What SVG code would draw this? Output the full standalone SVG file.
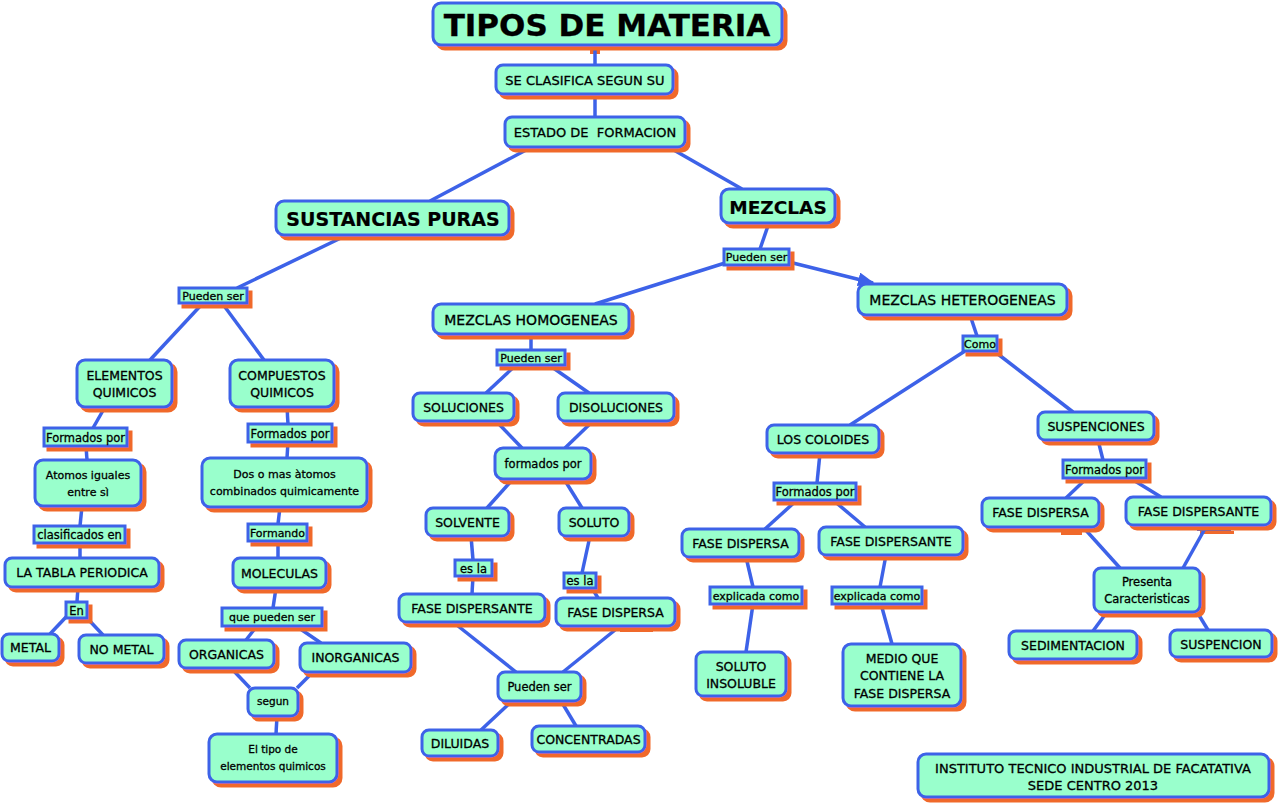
<svg xmlns="http://www.w3.org/2000/svg" width="1279" height="805" viewBox="0 0 1279 805">
<defs>
<filter id="sh" x="-20%" y="-30%" width="160%" height="190%">
<feFlood flood-color="#f0692c"/>
<feComposite operator="in" in2="SourceAlpha"/>
<feOffset dx="4" dy="4"/>
<feMerge><feMergeNode/><feMergeNode in="SourceGraphic"/></feMerge>
</filter>
<marker id="arr" markerUnits="userSpaceOnUse" markerWidth="18" markerHeight="14" refX="15" refY="7" orient="auto">
<path d="M0,0 L17,7 L0,14 z" fill="#3d62e8"/>
</marker>
</defs>
<style>
.n{fill:#99ffcc;stroke:#3d62e8;stroke-width:3;filter:url(#sh)}
.lb{fill:#99ffcc;stroke:#3d62e8;stroke-width:3;filter:url(#sh)}
text{font-family:"DejaVu Sans",sans-serif;font-size:12.5px;fill:#000;text-anchor:middle;dominant-baseline:central;stroke:#000;stroke-width:0.3px}
.s11{font-size:11px}.s115{font-size:11.5px}.s105{font-size:10.5px}.s13{font-size:13px}.s14{font-size:14px}
.big{font-size:19px;font-weight:bold;stroke-width:0.2px}
.ttl{font-size:31px;font-weight:bold;stroke-width:0.3px}
#connectors line{stroke:#3d62e8;stroke-width:3.5}
.or{fill:#f0692c}.bl{fill:#3d62e8}
</style>
<rect width="1279" height="805" fill="#fff"/>
<g id="artifacts">
<rect class="or" x="590" y="50" width="10" height="4"/>
<rect class="or" x="620" y="628" width="33" height="4"/>
<rect class="bl" x="1059" y="529" width="21" height="2"/>
<rect class="or" x="1061" y="531" width="21" height="4"/>
<rect class="bl" x="1197" y="527" width="34" height="4"/>
<rect class="or" x="1200" y="531" width="34" height="3"/>
</g>
<g id="connectors">
<line x1="595" y1="45" x2="595" y2="65"/>
<line x1="595" y1="94" x2="595" y2="117"/>
<line x1="528" y1="149" x2="430" y2="201"/>
<line x1="672" y1="149" x2="742" y2="189"/>
<line x1="345" y1="236" x2="237" y2="288"/>
<line x1="203" y1="303" x2="150" y2="360"/>
<line x1="222" y1="303" x2="264" y2="360"/>
<line x1="105" y1="407" x2="93" y2="428"/>
<line x1="86" y1="446" x2="87" y2="460"/>
<line x1="82" y1="506" x2="80" y2="526"/>
<line x1="80" y1="543" x2="80" y2="558"/>
<line x1="78" y1="587" x2="77" y2="602"/>
<line x1="66" y1="617" x2="50" y2="634"/>
<line x1="86" y1="617" x2="103" y2="635"/>
<line x1="287" y1="407" x2="288" y2="424"/>
<line x1="288" y1="442" x2="287" y2="458"/>
<line x1="280" y1="507" x2="278" y2="524"/>
<line x1="278" y1="541" x2="278" y2="558"/>
<line x1="276" y1="588" x2="273" y2="608"/>
<line x1="257" y1="626" x2="246" y2="640"/>
<line x1="296" y1="626" x2="321" y2="643"/>
<line x1="231" y1="668" x2="250" y2="688"/>
<line x1="313" y1="672" x2="297" y2="688"/>
<line x1="277" y1="716" x2="276" y2="734"/>
<line x1="769" y1="223" x2="760" y2="249"/>
<line x1="725" y1="263" x2="595" y2="304"/>
<line x1="789" y1="262" x2="873" y2="283" marker-end="url(#arr)"/>
<line x1="970" y1="315" x2="977" y2="336"/>
<line x1="965" y1="351" x2="850" y2="425"/>
<line x1="994" y1="351" x2="1073" y2="412"/>
<line x1="820" y1="453" x2="817" y2="483"/>
<line x1="797" y1="500" x2="765" y2="529"/>
<line x1="833" y1="500" x2="865" y2="527"/>
<line x1="746" y1="557" x2="753" y2="587"/>
<line x1="753" y1="604" x2="746" y2="652"/>
<line x1="886" y1="555" x2="880" y2="587"/>
<line x1="881" y1="604" x2="892" y2="644"/>
<line x1="1098" y1="440" x2="1103" y2="460"/>
<line x1="1087" y1="478" x2="1066" y2="498"/>
<line x1="1130" y1="478" x2="1161" y2="497"/>
<line x1="1083" y1="527" x2="1120" y2="568"/>
<line x1="1207" y1="525" x2="1183" y2="568"/>
<line x1="1107" y1="612" x2="1093" y2="631"/>
<line x1="1197" y1="612" x2="1208" y2="630"/>
<line x1="531" y1="334" x2="531" y2="350"/>
<line x1="516" y1="365" x2="486" y2="393"/>
<line x1="549" y1="365" x2="589" y2="393"/>
<line x1="496" y1="421" x2="522" y2="448"/>
<line x1="593" y1="421" x2="565" y2="448"/>
<line x1="513" y1="479" x2="487" y2="508"/>
<line x1="564" y1="479" x2="582" y2="508"/>
<line x1="471" y1="536" x2="473" y2="560"/>
<line x1="473" y1="576" x2="472" y2="594"/>
<line x1="590" y1="536" x2="582" y2="573"/>
<line x1="592" y1="588" x2="598" y2="598"/>
<line x1="453" y1="622" x2="516" y2="672"/>
<line x1="620" y1="626" x2="563" y2="672"/>
<line x1="512" y1="701" x2="481" y2="730"/>
<line x1="561" y1="701" x2="576" y2="726"/>
</g>
<g id="tipos"><rect class="n" x="433" y="3" width="349" height="42" rx="8"/><text class="ttl" x="607" y="25">TIPOS DE MATERIA</text></g>
<g id="clasifica"><rect class="n" x="496" y="65" width="177" height="29" rx="7"/><text class="s13" x="585" y="80">SE CLASIFICA SEGUN SU</text></g>
<g id="estado"><rect class="n" x="505" y="117" width="180" height="30" rx="7"/><text class="s13" x="595" y="132" xml:space="preserve">ESTADO DE  FORMACION</text></g>
<g id="sustancias"><rect class="n" x="276" y="201" width="233" height="34" rx="8"/><text class="big" x="393" y="219">SUSTANCIAS PURAS</text></g>
<g id="mezclas"><rect class="n" x="721" y="189" width="114" height="34" rx="8"/><text class="big" x="778" y="207" style="font-size:18.5px">MEZCLAS</text></g>
<g id="pueden-mezclas"><rect class="lb" x="724" y="249" width="65" height="16"/><text class="s11" x="756.5" y="257.5">Pueden ser</text></g>
<g id="heterogeneas"><rect class="n" x="858" y="284" width="209" height="31" rx="8"/><text class="s14" x="962.5" y="300">MEZCLAS HETEROGENEAS</text></g>
<g id="como"><rect class="lb" x="963" y="336" width="34" height="15"/><text class="s11" x="980" y="344">Como</text></g>
<g id="coloides"><rect class="n" x="767" y="425" width="112" height="28" rx="7"/><text x="823" y="439.5">LOS COLOIDES</text></g>
<g id="suspenciones"><rect class="n" x="1038" y="412" width="116" height="28" rx="7"/><text x="1096" y="426.5">SUSPENCIONES</text></g>
<g id="formados-coloides"><rect class="lb" x="774" y="483" width="82" height="17"/><text class="s115" x="815" y="492">Formados por</text></g>
<g id="fase-dispersa-col"><rect class="n" x="682" y="529" width="117" height="28" rx="7"/><text x="740.5" y="543.5">FASE DISPERSA</text></g>
<g id="fase-dispersante-col"><rect class="n" x="819" y="527" width="144" height="28" rx="7"/><text x="891" y="541.5">FASE DISPERSANTE</text></g>
<g id="explicada-1"><rect class="lb" x="710" y="587" width="92" height="17"/><text class="s11" x="756" y="596">explicada como</text></g>
<g id="explicada-2"><rect class="lb" x="832" y="587" width="90" height="17"/><text class="s11" x="877" y="596">explicada como</text></g>
<g id="soluto-insoluble"><rect class="n" x="696" y="652" width="90" height="44" rx="7"/><text x="741" y="666">SOLUTO</text><text x="741" y="683">INSOLUBLE</text></g>
<g id="medio"><rect class="n" x="843" y="644" width="118" height="62" rx="8"/><text x="902" y="658">MEDIO QUE</text><text x="902" y="675">CONTIENE LA</text><text x="902" y="693">FASE DISPERSA</text></g>
<g id="formados-susp"><rect class="lb" x="1063" y="460" width="83" height="18"/><text class="s115" x="1104.5" y="469.5">Formados por</text></g>
<g id="fase-dispersa-susp"><rect class="n" x="982" y="498" width="117" height="29" rx="7"/><text x="1040.5" y="512.5">FASE DISPERSA</text></g>
<g id="fase-dispersante-susp"><rect class="n" x="1126" y="497" width="145" height="28" rx="7"/><text x="1198.5" y="511">FASE DISPERSANTE</text></g>
<g id="presenta"><rect class="n" x="1094" y="568" width="106" height="44" rx="7"/><text class="s115" x="1147" y="582">Presenta</text><text class="s115" x="1147" y="599">Caracteristicas</text></g>
<g id="sedimentacion"><rect class="n" x="1009" y="631" width="128" height="28" rx="7"/><text x="1073" y="645.5">SEDIMENTACION</text></g>
<g id="suspencion"><rect class="n" x="1170" y="630" width="102" height="27" rx="7"/><text x="1221" y="644">SUSPENCION</text></g>
<g id="instituto"><rect class="n" x="918" y="754" width="351" height="43" rx="8"/><text class="s13" x="1093" y="768">INSTITUTO TECNICO INDUSTRIAL DE FACATATIVA</text><text class="s13" x="1093" y="785">SEDE CENTRO 2013</text></g>
<g id="homogeneas"><rect class="n" x="433" y="304" width="196" height="30" rx="8"/><text class="s14" x="531" y="319.5">MEZCLAS HOMOGENEAS</text></g>
<g id="pueden-homog"><rect class="lb" x="497" y="350" width="68" height="15"/><text class="s11" x="531" y="358">Pueden ser</text></g>
<g id="soluciones"><rect class="n" x="413" y="393" width="101" height="28" rx="7"/><text x="463.5" y="407.5">SOLUCIONES</text></g>
<g id="disoluciones"><rect class="n" x="558" y="393" width="116" height="28" rx="7"/><text x="616" y="407.5">DISOLUCIONES</text></g>
<g id="formados-homog"><rect class="n" x="495" y="448" width="96" height="31" rx="8"/><text class="s115" x="543" y="463.5">formados por</text></g>
<g id="solvente"><rect class="n" x="426" y="508" width="83" height="28" rx="7"/><text x="467.5" y="522.5">SOLVENTE</text></g>
<g id="soluto"><rect class="n" x="559" y="508" width="70" height="28" rx="7"/><text x="594" y="522.5">SOLUTO</text></g>
<g id="es-la-1"><rect class="lb" x="455" y="560" width="37" height="16"/><text class="s115" x="473.5" y="568.5">es la</text></g>
<g id="es-la-2"><rect class="lb" x="564" y="573" width="32" height="15"/><text class="s115" x="580" y="581">es la</text></g>
<g id="fase-dispersante-mid"><rect class="n" x="399" y="594" width="146" height="28" rx="7"/><text x="472" y="608.5">FASE DISPERSANTE</text></g>
<g id="fase-dispersa-mid"><rect class="n" x="556" y="598" width="119" height="28" rx="7"/><text x="615.5" y="612.5">FASE DISPERSA</text></g>
<g id="pueden-ser-sol"><rect class="n" x="498" y="672" width="83" height="29" rx="7"/><text class="s115" x="539.5" y="687">Pueden ser</text></g>
<g id="diluidas"><rect class="n" x="422" y="730" width="76" height="26" rx="7"/><text x="460" y="743.5">DILUIDAS</text></g>
<g id="concentradas"><rect class="n" x="532" y="726" width="113" height="26" rx="7"/><text x="588.5" y="739.5">CONCENTRADAS</text></g>
<g id="pueden-sustancias"><rect class="lb" x="179" y="288" width="68" height="15"/><text class="s11" x="213" y="296">Pueden ser</text></g>
<g id="elementos"><rect class="n" x="77" y="360" width="95" height="47" rx="8"/><text x="124.5" y="375">ELEMENTOS</text><text x="124.5" y="392">QUIMICOS</text></g>
<g id="compuestos"><rect class="n" x="230" y="360" width="104" height="47" rx="8"/><text x="282" y="375">COMPUESTOS</text><text x="282" y="392">QUIMICOS</text></g>
<g id="formados-elem"><rect class="lb" x="44" y="428" width="83" height="18"/><text class="s115" x="85.5" y="437.5">Formados por</text></g>
<g id="formados-comp"><rect class="lb" x="248" y="424" width="84" height="18"/><text class="s115" x="290" y="433.5">Formados por</text></g>
<g id="atomos"><rect class="n" x="35" y="460" width="106" height="46" rx="8"/><text class="s11" x="88" y="475">Atomos iguales</text><text class="s11" x="88" y="492">entre sì</text></g>
<g id="dos-o-mas"><rect class="n" x="202" y="458" width="165" height="49" rx="8"/><text class="s11" x="284.5" y="474">Dos o mas àtomos</text><text class="s11" x="284.5" y="491">combinados quimicamente</text></g>
<g id="clasificados"><rect class="lb" x="34" y="526" width="91" height="17"/><text class="s115" x="79.5" y="535">clasificados en</text></g>
<g id="formando"><rect class="lb" x="248" y="524" width="59" height="17"/><text class="s11" x="277.5" y="533">Formando</text></g>
<g id="tabla"><rect class="n" x="5" y="558" width="154" height="29" rx="7"/><text x="82" y="572.5">LA TABLA PERIODICA</text></g>
<g id="moleculas"><rect class="n" x="233" y="558" width="93" height="30" rx="7"/><text x="279.5" y="573">MOLECULAS</text></g>
<g id="en"><rect class="lb" x="66" y="602" width="21" height="16"/><text class="s115" x="76.5" y="610.5">En</text></g>
<g id="metal"><rect class="n" x="2" y="634" width="57" height="27" rx="7"/><text x="30.5" y="647.5">METAL</text></g>
<g id="no-metal"><rect class="n" x="79" y="635" width="85" height="28" rx="7"/><text x="121.5" y="649.5">NO METAL</text></g>
<g id="que-pueden"><rect class="lb" x="222" y="608" width="100" height="18"/><text class="s11" x="272" y="617.5">que pueden ser</text></g>
<g id="organicas"><rect class="n" x="179" y="640" width="95" height="28" rx="7"/><text x="226.5" y="654">ORGANICAS</text></g>
<g id="inorganicas"><rect class="n" x="300" y="643" width="111" height="29" rx="7"/><text x="355.5" y="657.5">INORGANICAS</text></g>
<g id="segun"><rect class="n" x="248" y="688" width="50" height="28" rx="7"/><text class="s105" x="273" y="701">segun</text></g>
<g id="el-tipo"><rect class="n" x="209" y="734" width="128" height="48" rx="8"/><text class="s105" x="273" y="749">El tipo de</text><text class="s105" x="273" y="766">elementos quimicos</text></g>
</svg>
